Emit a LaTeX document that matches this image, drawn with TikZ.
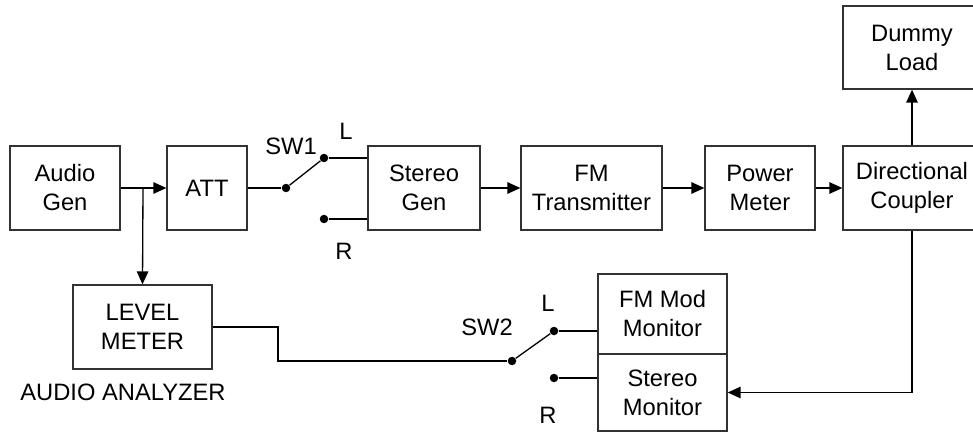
\documentclass[tikz,border=0pt]{standalone}
\usepackage{fontspec}
\setmainfont{Liberation Sans}
\usetikzlibrary{arrows.meta}
\definecolor{edge}{RGB}{50,50,50}

\tikzset{
  blk/.style={draw=edge,line width=0.75pt,align=center,inner sep=0pt,
    minimum height=1.68cm},
  arr/.style={line width=0.75pt,-{Triangle[length=2.6mm,width=2.3mm]}},
  wire/.style={line width=0.75pt},
  contact/.style={circle,fill,inner sep=0pt,minimum size=0.17cm}
}

\begin{document}
\begin{tikzpicture}[x=0.02cm,y=-0.02cm,font=\fontsize{13.5}{16.5}\selectfont]
    \useasboundingbox (0,0) rectangle (973,432);
    % top chain
    \node[blk,minimum width=2.2cm] (audio) at (65,188) {Audio\\Gen};
    \node[blk,minimum width=1.6cm] (att) at (207,188) {ATT};
    \node[blk,minimum width=2.24cm] (stereo) at (424,188) {Stereo\\Gen};
    \node[blk,minimum width=2.82cm] (fmtx) at (591.5,188) {FM\\Transmitter};
    \node[blk,minimum width=2.2cm] (power) at (760,188) {Power\\Meter};
    \node[blk,minimum width=2.76cm] (coupler) at (912,188) {Directional\\Coupler};
    \node[blk,minimum width=2.76cm,minimum height=1.66cm] (dummy) at (912,47.5) {Dummy\\Load};
    % analyzer and monitors
    \node[blk,minimum width=2.78cm] (level) at (142.5,327) {LEVEL\\METER};
    \node (analyzer) at (123,392) {AUDIO ANALYZER};
    \node[blk,minimum width=2.58cm,minimum height=1.6cm] (fmmod) at (662.5,314) {FM Mod\\Monitor};
    \node[blk,minimum width=2.58cm,minimum height=1.54cm] (stmon) at (662.5,392.5) {Stereo\\Monitor};

    % switch SW1
    \node[contact] (p1) at (286,188) {};
    \node[contact] (l1) at (324,158) {};
    \node[contact] (r1) at (324,219) {};
    \node (sw1) at (291,146) {SW1};
    \node (l1lbl) at (346,131) {L};
    \node (r1lbl) at (344,251) {R};
    % switch SW2
    \node[contact] (p2) at (512,361) {};
    \node[contact] (l2) at (554,331) {};
    \node[contact] (r2) at (554,378) {};
    \node (sw2) at (487,327) {SW2};
    \node (l2lbl) at (548,303) {L};
    \node (r2lbl) at (548,415) {R};

    \coordinate (split) at (143,188);
    \coordinate (bend) at (278,361);

    \draw[arr] (audio.east) -- (att.west);
    \draw[arr] (split) -- (level.north);
    \draw[wire] (att.east) -- (p1);
    \draw[wire] (p1) -- (l1);
    \draw[wire] (l1) -- (l1 -| stereo.west);
    \draw[wire] (r1) -- (r1 -| stereo.west);
    \draw[arr] (stereo) -- (fmtx);
    \draw[arr] (fmtx) -- (power);
    \draw[arr] (power) -- (coupler);
    \draw[arr] (coupler) -- (dummy);
    \draw[arr] (coupler.south) |- (stmon.east);
    \draw[wire] (level.east) -| (bend) -- (p2);
    \draw[wire] (p2) -- (l2);
    \draw[wire] (l2) -- (l2 -| fmmod.west);
    \draw[wire] (r2) -- (r2 -| stmon.west);
  \end{tikzpicture}
\end{document}
